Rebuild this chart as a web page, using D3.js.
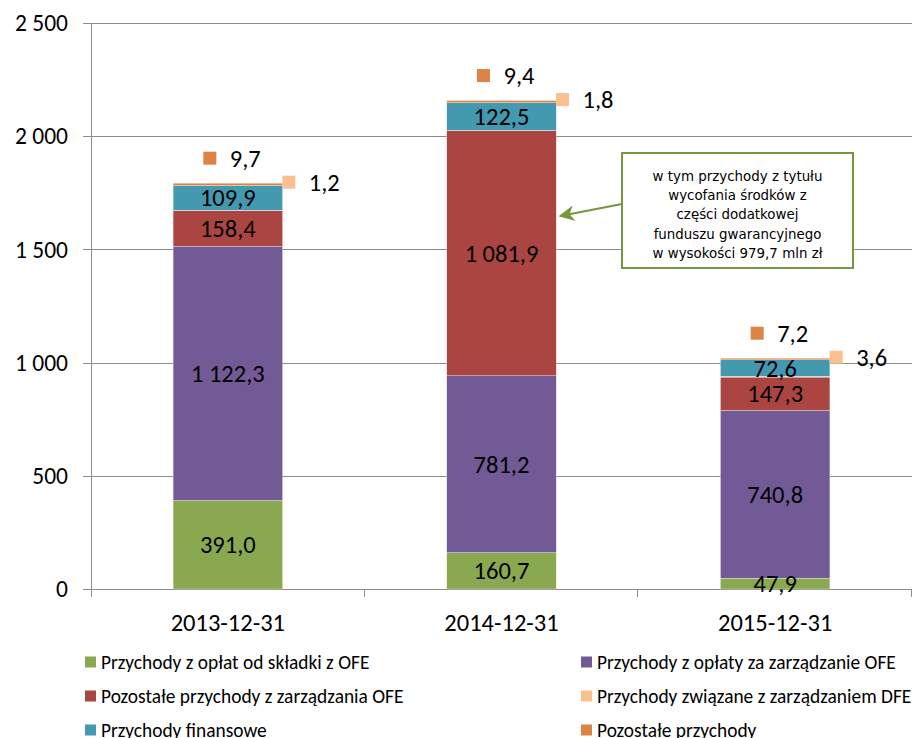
<!DOCTYPE html>
<html>
<head>
<meta charset="utf-8">
<script src="https://cdn.jsdelivr.net/npm/d3@7"></script>
<style>
  body { margin: 0; background: #fff; }
  svg text { font-family: Carlito, Lato, sans-serif; fill: #000; }
</style>
</head>
<body>
<svg id="chart" width="917" height="738"></svg>
<script>
// dane (mln zł)
const categories = ["2013-12-31", "2014-12-31", "2015-12-31"];
const skladki = [391.0, 160.7, 47.9];
const oplaty = [1122.3, 781.2, 740.8];
const pozostaleOFE = [158.4, 1081.9, 147.3];
const dfe = [1.2, 1.8, 3.6];
const finansowe = [109.9, 122.5, 72.6];
const pozostale = [9.7, 9.4, 7.2];
const yTicks = [0, 500, 1000, 1500, 2000, 2500];

const seriesNames = [
    "Przychody z opłat od składki z OFE",
    "Przychody z opłaty za zarządzanie OFE",
    "Pozostałe przychody z zarządzania OFE",
    "Przychody związane z zarządzaniem DFE",
    "Przychody finansowe",
    "Pozostałe przychody"
];
const seriesValues = [skladki, oplaty, pozostaleOFE, dfe, finansowe, pozostale];
const colors = ["#8aa84f", "#725a96", "#ab4542", "#fbc08f", "#4399b0", "#dd8343"];
const legendOrder = [0, 1, 2, 3, 4, 5];

const noteLines = [
    "w tym przychody z tytułu",
    "wycofania środków z",
    "części dodatkowej",
    "funduszu gwarancyjnego",
    "w wysokości 979,7 mln zł"
];

const pl = d3.formatLocale({decimal: ",", thousands: "\u00a0", grouping: [3], currency: ["", " zł"]});
const fmtTick = v => pl.format(",")(v).replace(/\u00a0/g, " ");
const fmtVal = v => pl.format(",.1f")(v).replace(/\u00a0/g, " ");

const svg = d3.select("#chart");
const mLeft = 91, mRight = 912, mTop = 23, mBottom = 589;

const x = d3.scaleBand().domain(categories).range([mLeft, mRight]).padding(0);
const y = d3.scaleLinear().domain([0, 2500]).range([mBottom, mTop]);
const barW = x.bandwidth() * 0.4;

const rows = categories.map((c, i) => {
    const r = {cat: c};
    seriesNames.forEach((s, k) => r[k] = seriesValues[k][i]);
    return r;
});
const stacked = d3.stack().keys(d3.range(seriesNames.length))(rows);

// siatka
svg.append("g")
    .selectAll("line")
    .data(yTicks)
    .join("line")
    .attr("x1", mLeft - 8)
    .attr("x2", mRight)
    .attr("y1", d => Math.round(y(d)) + 0.5)
    .attr("y2", d => Math.round(y(d)) + 0.5)
    .attr("stroke", "#8c8c8c")
    .attr("stroke-width", 1);

// os Y
svg.append("line")
    .attr("x1", mLeft + 0.5).attr("x2", mLeft + 0.5)
    .attr("y1", mTop).attr("y2", mBottom + 8)
    .attr("stroke", "#8c8c8c");

svg.append("g")
    .selectAll("text")
    .data(yTicks)
    .join("text")
    .attr("x", 68)
    .attr("y", d => y(d))
    .attr("dy", "0.35em")
    .attr("text-anchor", "end")
    .style("font-size", "23.5px")
    .text(d => fmtTick(d));

// os X - kreski miedzy kategoriami
const bounds = categories.map(c => x(c)).concat([mRight]);
svg.append("g")
    .selectAll("line")
    .data(bounds.slice(1))
    .join("line")
    .attr("x1", d => Math.round(d) - 0.5)
    .attr("x2", d => Math.round(d) - 0.5)
    .attr("y1", mBottom)
    .attr("y2", mBottom + 8)
    .attr("stroke", "#8c8c8c");

svg.append("g")
    .selectAll("text")
    .data(categories)
    .join("text")
    .attr("x", d => x(d) + x.bandwidth() / 2)
    .attr("y", 631)
    .attr("text-anchor", "middle")
    .style("font-size", "24.5px")
    .text(d => d);

// slupki
const bars = svg.append("g");
stacked.forEach((layer, k) => {
    bars.selectAll(null)
        .data(layer)
        .join("rect")
        .attr("x", d => x(d.data.cat) + (x.bandwidth() - barW) / 2)
        .attr("width", barW)
        .attr("y", d => y(d[1]))
        .attr("height", d => y(d[0]) - y(d[1]))
        .attr("fill", colors[k])
        .attr("stroke", "#fff")
        .attr("stroke-width", 0.3);
});

// etykiety w srodku
[0, 1, 2, 4].forEach(k => {
    svg.append("g")
        .selectAll("text")
        .data(stacked[k])
        .join("text")
        .attr("x", d => x(d.data.cat) + x.bandwidth() / 2)
        .attr("y", d => y((d[0] + d[1]) / 2))
        .attr("dy", "0.35em")
        .attr("text-anchor", "middle")
        .style("font-size", "24.5px")
        .text(d => fmtVal(d[1] - d[0]));
});

// etykiety malych serii (z kluczem legendy)
const outer = [
    {k: 5, dx: -18, dy: -25},
    {k: 3, dx: 61, dy: -1}
];
outer.forEach(o => {
    const g = svg.append("g")
        .selectAll("g")
        .data(stacked[5])
        .join("g")
        .attr("transform", (d, i) => `translate(${x(d.data.cat) + x.bandwidth() / 2 + o.dx},${y(d[1]) + o.dy})`);
    g.append("rect")
        .attr("x", -6.5).attr("y", -6.5)
        .attr("width", 13).attr("height", 13)
        .attr("fill", colors[o.k]);
    g.append("text")
        .attr("x", 20)
        .attr("dy", "0.35em")
        .style("font-size", "24.5px")
        .text((d, i) => fmtVal(seriesValues[o.k][i]));
});

// adnotacja
const note = svg.append("g");
const noteTarget = {x: x(categories[1]) + (x.bandwidth() + barW) / 2 + 4, y: 216};
const defs = svg.append("defs");
defs.append("marker")
    .attr("id", "arrow")
    .attr("viewBox", "0 0 10 10")
    .attr("refX", 9).attr("refY", 5)
    .attr("markerWidth", 8).attr("markerHeight", 7)
    .attr("markerUnits", "strokeWidth")
    .attr("orient", "auto")
    .append("path")
    .attr("d", "M0,0 L10,5 L0,10 L3,5 z")
    .attr("fill", "#77963d");

note.append("line")
    .attr("x1", 622).attr("y1", 204)
    .attr("x2", noteTarget.x).attr("y2", noteTarget.y)
    .attr("stroke", "#77963d")
    .attr("stroke-width", 2.25)
    .attr("marker-end", "url(#arrow)");

note.append("rect")
    .attr("x", 622).attr("y", 153)
    .attr("width", 231).attr("height", 115)
    .attr("fill", "#fff")
    .attr("stroke", "#77963d")
    .attr("stroke-width", 2);

note.selectAll("text")
    .data(noteLines)
    .join("text")
    .attr("x", 737.5)
    .attr("y", (d, i) => 176 + i * 19.3)
    .attr("dy", "0.35em")
    .attr("text-anchor", "middle")
    .style("font-family", "'DejaVu Sans', Verdana, sans-serif")
    .style("font-size", "13.4px")
    .text(d => d);

// legenda
const legend = svg.append("g");
const item = legend.selectAll("g")
    .data(legendOrder)
    .join("g")
    .attr("transform", (d, i) => `translate(${i % 2 === 0 ? 85 : 581},${662 + Math.floor(i / 2) * 34})`);
item.append("rect")
    .attr("x", 0).attr("y", -5.5)
    .attr("width", 11).attr("height", 11)
    .attr("fill", d => colors[d]);
item.append("text")
    .attr("x", 16)
    .attr("dy", "0.35em")
    .style("font-size", "19.4px")
    .text(d => seriesNames[d]);
</script>
</body>
</html>
